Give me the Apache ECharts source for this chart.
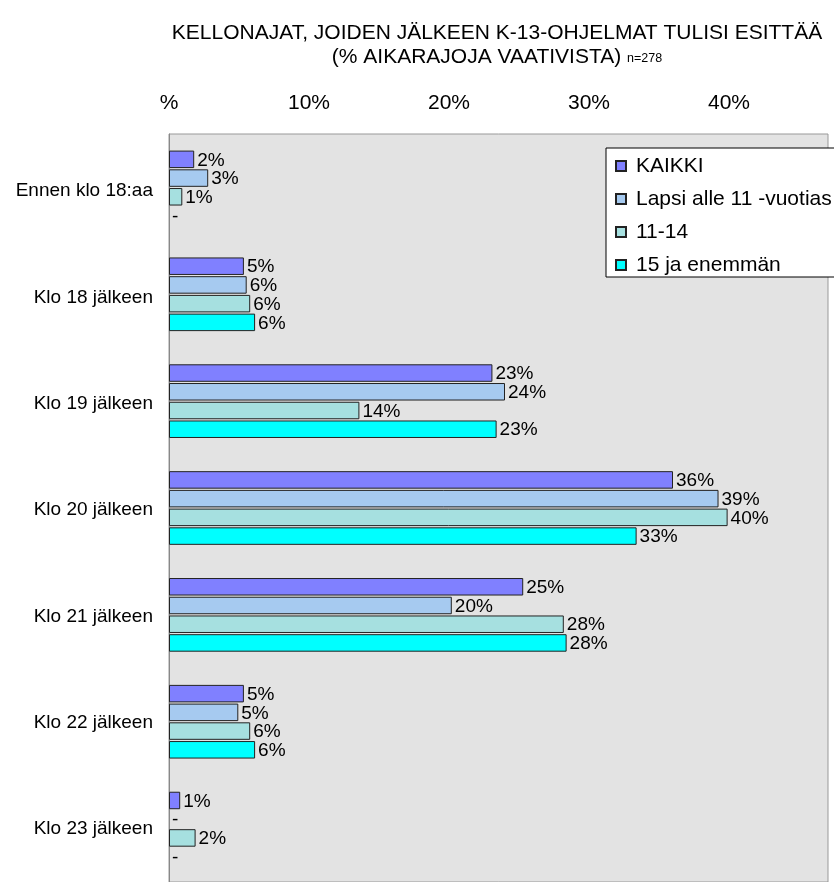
<!DOCTYPE html>
<html>
<head>
<meta charset="utf-8">
<script src="https://cdn.jsdelivr.net/npm/echarts@6/dist/echarts.min.js"></script>
<style>
html,body{margin:0;padding:0;background:#fff;}
#chart{width:834px;height:882px;}
</style>
</head>
<body>
<div id="chart"></div>
<script>
const categories = ['Ennen klo 18:aa','Klo 18 jälkeen','Klo 19 jälkeen','Klo 20 jälkeen','Klo 21 jälkeen','Klo 22 jälkeen','Klo 23 jälkeen'];
const seriesNames = ['KAIKKI','Lapsi alle 11 -vuotias','11-14','15 ja enemmän'];
const kaikki = [1.8, 5.35, 23.1, 36.0, 25.3, 5.35, 0.8];
const lapsi = [2.8, 5.55, 24.0, 39.25, 20.2, 4.95, 0];
const ika1114 = [0.95, 5.8, 13.6, 39.9, 28.2, 5.8, 1.9];
const ika15 = [0, 6.15, 23.4, 33.4, 28.4, 6.15, 0];
const tickValues = [0, 10, 20, 30, 40];
const colors = ['#8080FF','#A6CAF0','#A6E0E0','#00FFFF'];

const font = '"Liberation Sans", Arial, sans-serif';
const allData = [kaikki, lapsi, ika1114, ika15];

const chart = echarts.init(document.getElementById('chart'), null, {renderer:'canvas'});
chart.setOption({
  animation: false,
  backgroundColor: '#ffffff',
  title: {
    text: 'KELLONAJAT, JOIDEN JÄLKEEN K-13-OHJELMAT TULISI ESITTÄÄ\n{a|(% AIKARAJOJA VAATIVISTA)} {b|n=278}',
    left: 492, top: 16, textAlign: 'center',
    textStyle: {
      fontFamily: font, fontSize: 21, fontWeight: 'normal', color: '#000', lineHeight: 24,
      rich: {
        a: {fontFamily: font, fontSize: 21, color: '#000', lineHeight: 24},
        b: {fontFamily: font, fontSize: 12.5, color: '#000', lineHeight: 24, padding: [3,0,0,0]}
      }
    }
  },
  legend: {
    orient: 'vertical',
    left: 606, top: 148,
    data: seriesNames,
    icon: 'rect',
    backgroundColor: '#ffffff',
    borderColor: '#000', borderWidth: 1,
    padding: [7, 30, 1, 9],
    itemWidth: 10, itemHeight: 10, itemGap: 11,
    textStyle: {fontFamily: font, fontSize: 21, color: '#000', lineHeight: 22, padding: [0,0,0,5]},
    selectedMode: false
  },
  grid: [{
    left: 169, top: 134, width: 659, height: 751,
    show: true, backgroundColor: '#E3E3E3', borderColor: '#999', borderWidth: 1,
    containLabel: false
  }, {
    left: 169, top: 138, width: 659, height: 751, show: false, containLabel: false
  }],
  xAxis: [{
    type: 'value', position: 'top', min: 0, max: 47.07, interval: 10, gridIndex: 0,
    axisLine: {show: false}, axisTick: {show: false}, splitLine: {show: false},
    axisLabel: {
      fontFamily: font, fontSize: 21, color: '#000', margin: 20,
      customValues: tickValues,
      formatter: v => v === 0 ? '%' : v + '%'
    }
  }, {
    type: 'value', gridIndex: 1, min: 0, max: 47.07, show: false
  }],
  yAxis: [{
    type: 'category', data: categories, inverse: true, gridIndex: 0,
    axisLine: {show: true, lineStyle: {color: '#888', width: 1}},
    axisTick: {show: false},
    axisLabel: {show: false}
  }, {
    type: 'category', data: categories, inverse: true, gridIndex: 1,
    axisLine: {show: false}, axisTick: {show: false}, splitLine: {show: false},
    axisLabel: {fontFamily: font, fontSize: 19, color: '#000', margin: 16}
  }],
  series: seriesNames.map((name, i) => ({
    name: name, type: 'bar',
    data: allData[i].map(v => v === 0 ? {value: v, itemStyle: {borderWidth: 0}} : v),
    xAxisIndex: 0, yAxisIndex: 0,
    barWidth: 17.5, barGap: '7%',
    itemStyle: {color: colors[i], borderColor: '#222', borderWidth: 1},
    label: {
      show: true, position: 'right', distance: 3, offset: [0, 1],
      fontFamily: font, fontSize: 19, color: '#000',
      formatter: p => p.value === 0 ? '-' : Math.round(p.value) + '%'
    }
  }))
});
</script>
</body>
</html>
